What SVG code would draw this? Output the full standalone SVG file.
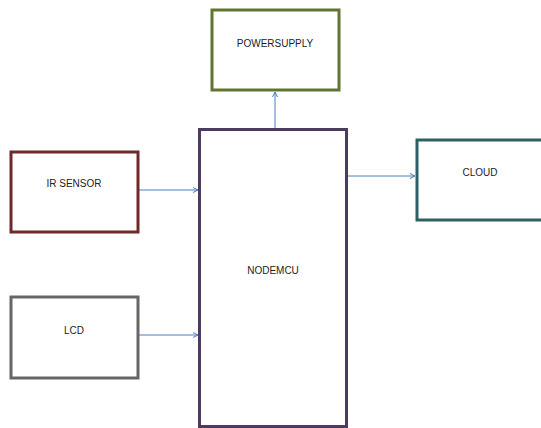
<svg xmlns="http://www.w3.org/2000/svg" width="541" height="428" viewBox="0 0 541 428">
<style>
.box{fill:#fff;stroke-width:3}
.lbl{font-family:"Liberation Sans",Arial,sans-serif;font-size:10px;fill:#222;text-anchor:middle;dominant-baseline:middle}
.conn{stroke:#4a7ebb;stroke-width:1;fill:none;marker-end:url(#ah)}
</style>
<defs>
<marker id="ah" markerWidth="6" markerHeight="6" refX="5" refY="3" orient="auto" markerUnits="userSpaceOnUse">
<path d="M0,0.5 L5,3 L0,5.5" fill="none" stroke="#4a7ebb" stroke-width="1"/>
</marker>
</defs>
<rect width="541" height="428" fill="#fff"/>
<g id="connectors">
<line class="conn" x1="275" y1="128" x2="275" y2="92"/>
<line class="conn" x1="139" y1="190" x2="198" y2="190"/>
<line class="conn" x1="139" y1="335" x2="198" y2="335"/>
<line class="conn" x1="348" y1="176" x2="415" y2="176"/>
</g>
<g id="powersupply">
<rect class="box" x="212" y="10" width="127" height="80" stroke="#5f7530"/>
<text class="lbl" x="275" y="44">POWERSUPPLY</text>
</g>
<g id="irsensor">
<rect class="box" x="11" y="152" width="127" height="80" stroke="#6e2a2a"/>
<text class="lbl" x="74" y="184">IR SENSOR</text>
</g>
<g id="nodemcu">
<rect class="box" x="199.5" y="129.5" width="147" height="297" stroke="#4b3b60"/>
<text class="lbl" x="273" y="271">NODEMCU</text>
</g>
<g id="cloud">
<rect class="box" x="417" y="140" width="130" height="80" stroke="#2e5f66"/>
<text class="lbl" x="480" y="173">CLOUD</text>
</g>
<g id="lcd">
<rect class="box" x="11" y="297" width="127" height="81" stroke="#666666"/>
<text class="lbl" x="74" y="331">LCD</text>
</g>
</svg>
